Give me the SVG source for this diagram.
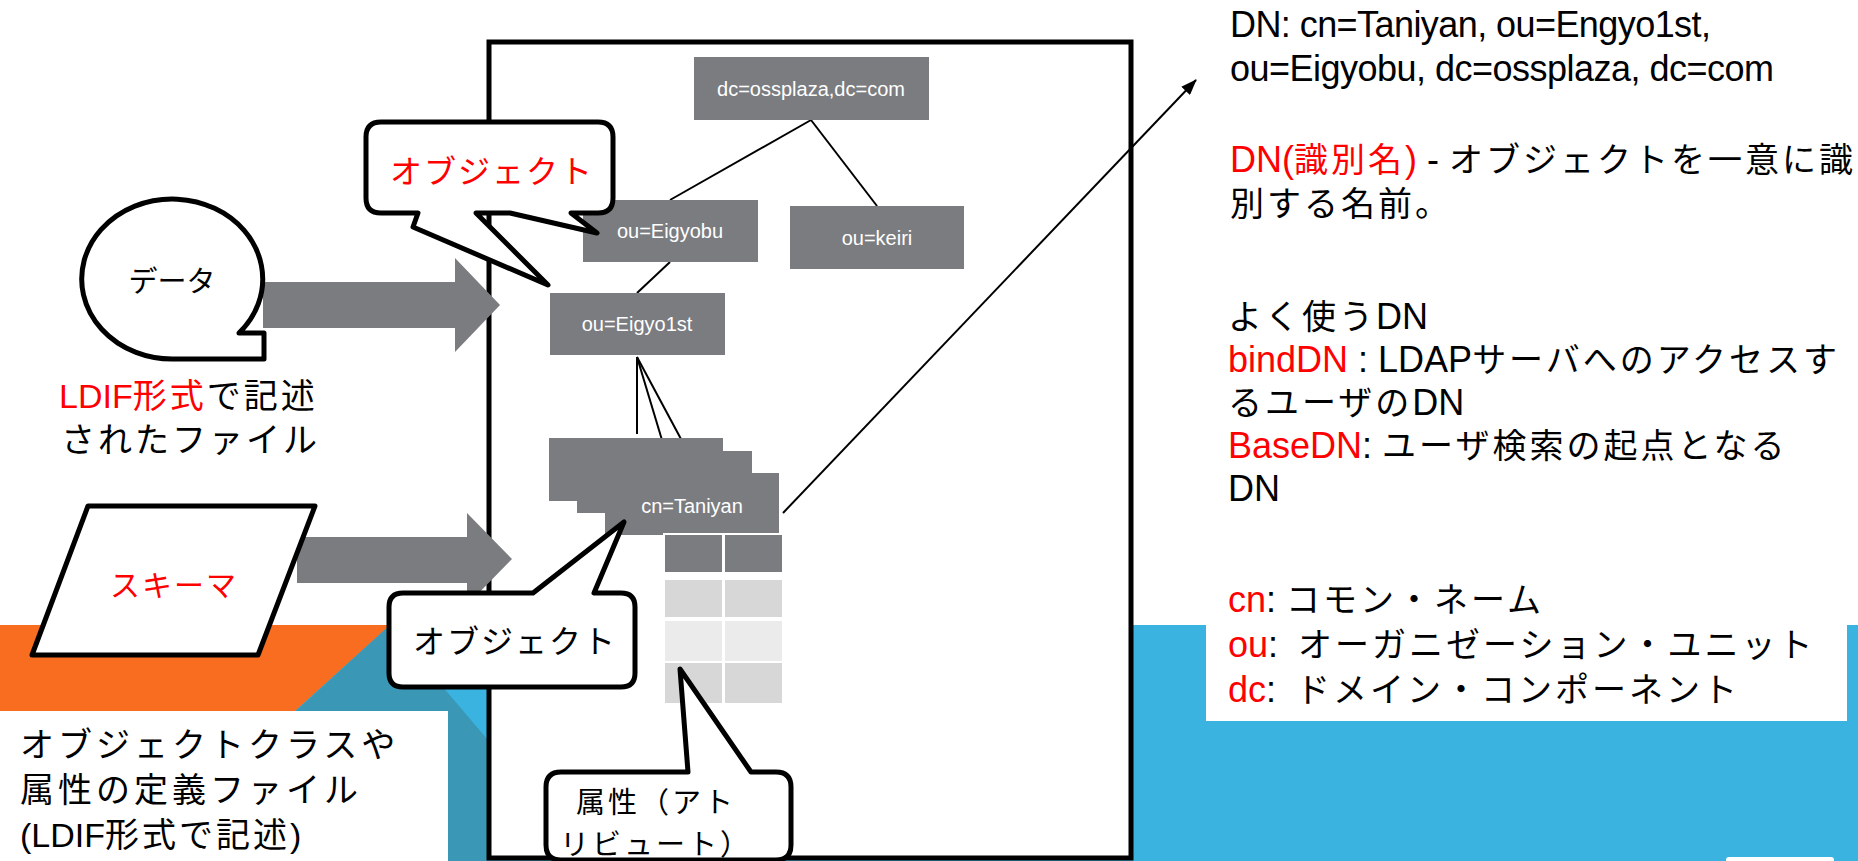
<svg xmlns="http://www.w3.org/2000/svg" width="1858" height="861" viewBox="0 0 1858 861">
<defs>
<style>
.rt{font-family:"Liberation Sans","Noto Sans CJK JP",sans-serif;font-size:36px;fill:#000;}
.j{letter-spacing:3px;font-size:34px;}
.j4{letter-spacing:4px;font-size:34px;}
.box{fill:#7B7C80;}
.bt{font-family:"Liberation Sans",sans-serif;font-size:20px;fill:#fff;text-anchor:middle;}
.ln{stroke:#000;stroke-width:2;fill:none;}
.bub{fill:#fff;stroke:#000;stroke-width:5;stroke-linejoin:round;}
.ar{fill:#7B7C80;}
.jt{font-family:"Noto Sans CJK JP",sans-serif;fill:#000;}
.rt .red, .jt.red, .red{fill:#FF0000;}
</style>
<marker id="ah" markerUnits="userSpaceOnUse" markerWidth="16" markerHeight="12" refX="15" refY="6" orient="auto"><path d="M0,0 L16,6 L0,12 Z" fill="#000"/></marker>
</defs>

<g id="background">
<rect x="0" y="0" width="1858" height="861" fill="#fff"/>
<rect x="0" y="625" width="1858" height="236" fill="#3BB3E0"/>
<polygon points="0,625 390,625 295,711 0,711" fill="#F86D1F"/>
<polygon points="390,625 131,861 591,861" fill="#3A97B5"/>
<rect x="0" y="711" width="448" height="150" fill="#fff"/>
<rect x="1206" y="540" width="641" height="181" fill="#fff"/>
<rect x="1726" y="857" width="108" height="10" rx="3" fill="#fff"/>
</g>

<g id="container">
<rect x="489" y="42" width="642" height="816" fill="#fff" stroke="#000" stroke-width="5"/>
</g>

<g id="connectors">
<line class="ln" x1="811" y1="120" x2="670" y2="200"/>
<line class="ln" x1="811" y1="120" x2="877" y2="206"/>
<line class="ln" x1="670" y1="262" x2="637" y2="293"/>
<line class="ln" x1="637" y1="357" x2="637" y2="434"/>
<line class="ln" x1="637" y1="357" x2="665" y2="450"/>
<line class="ln" x1="637" y1="357" x2="696" y2="467"/>
<line class="ln" x1="783" y1="513" x2="1196" y2="80" marker-end="url(#ah)"/>
</g>

<g id="node-dc">
<rect class="box" x="694" y="57" width="235" height="63"/>
<text class="bt" x="811" y="96">dc=ossplaza,dc=com</text>
</g>
<g id="node-eigyobu">
<rect class="box" x="583" y="200" width="175" height="62"/>
<text class="bt" x="670" y="238">ou=Eigyobu</text>
</g>
<g id="node-keiri">
<rect class="box" x="790" y="206" width="174" height="63"/>
<text class="bt" x="877" y="245">ou=keiri</text>
</g>
<g id="node-eigyo1st">
<rect class="box" x="550" y="293" width="175" height="62"/>
<text class="bt" x="637" y="331">ou=Eigyo1st</text>
</g>
<g id="node-cn">
<rect class="box" x="549" y="438" width="174" height="63"/>
<rect class="box" x="577" y="451" width="175" height="62"/>
<rect class="box" x="605" y="473" width="174" height="62"/>
<text class="bt" x="692" y="513">cn=Taniyan</text>
</g>
<g id="node-attrs">
<rect x="663" y="533" width="121" height="172" fill="#fff"/>
<rect x="665" y="535" width="57" height="37" fill="#7B7C80"/>
<rect x="725" y="535" width="57" height="37" fill="#7B7C80"/>
<rect x="665" y="580" width="57" height="37" fill="#D7D7D7"/>
<rect x="725" y="580" width="57" height="37" fill="#D7D7D7"/>
<rect x="665" y="621" width="57" height="40" fill="#EBEBEB"/>
<rect x="725" y="621" width="57" height="40" fill="#EBEBEB"/>
<rect x="665" y="663" width="57" height="40" fill="#D7D7D7"/>
<rect x="725" y="663" width="57" height="40" fill="#D7D7D7"/>
</g>

<g id="arrow-data">
<polygon class="ar" points="263,282 455,282 455,258 500,305 455,352 455,328 263,328"/>
</g>
<g id="arrow-schema">
<polygon class="ar" points="297,537 467,537 467,513 512,559 467,605 467,583 297,583"/>
</g>

<g id="node-data">
<path class="bub" d="M174,359 H264 V333 H239 A90.5 80 0 1 0 174,359 Z"/>
<text class="jt" x="172" y="292" font-size="29" text-anchor="middle">データ</text>
</g>
<g id="label-ldif">
<text class="rt" x="59" y="408"><tspan class="red" font-size="34">LDIF</tspan><tspan class="red j">形式</tspan><tspan class="j">で記述</tspan></text>
<text class="rt" x="61" y="452"><tspan class="j">されたファイル</tspan></text>
</g>

<g id="node-schema">
<polygon class="bub" points="88,506 315,506 258,655 32,655"/>
<text class="jt red" x="174" y="596" font-size="30" text-anchor="middle" letter-spacing="2" fill="#FF0000">スキーマ</text>
</g>

<g id="callout-object-top">
<path class="bub" d="M381,122 H598 Q613,122 613,137 V198 Q613,213 598,213 H571 L597,233 L510,213 H476 L548,285 L413,227 L418,213 H381 Q366,213 366,198 V137 Q366,122 381,122 Z"/>
<text class="jt red" x="492" y="183" font-size="32" text-anchor="middle" letter-spacing="2" fill="#FF0000">オブジェクト</text>
</g>

<g id="callout-object-bottom">
<path class="bub" d="M403,593 H533 L624,522 L594,593 H621 Q635,593 635,607 V673 Q635,687 621,687 H403 Q389,687 389,673 V607 Q389,593 403,593 Z"/>
<text class="jt" x="515" y="653" font-size="32" text-anchor="middle" letter-spacing="2">オブジェクト</text>
</g>

<g id="callout-attr">
<path class="bub" d="M561,772 H688 L680,669 L751,772 H776 Q791,772 791,787 V845 Q791,860 776,860 H561 Q546,860 546,845 V787 Q546,772 561,772 Z"/>
<text class="jt" font-size="29" text-anchor="middle" letter-spacing="3"><tspan x="656" y="813">属性（アト</tspan><tspan x="656" y="855">リビュート）</tspan></text>
</g>

<g id="label-schema-desc">
<text class="rt" x="20" y="757"><tspan class="j4">オブジェクトクラスや</tspan></text>
<text class="rt" x="20" y="802"><tspan class="j4">属性の定義ファイル</tspan></text>
<text class="rt" x="20" y="847"><tspan font-size="34">(LDIF</tspan><tspan class="j">形式で記述</tspan><tspan font-size="34">)</tspan></text>
</g>

<g id="label-dn">
<text class="rt" x="1230" y="37" textLength="481" lengthAdjust="spacing">DN: cn=Taniyan, ou=Engyo1st,</text>
<text class="rt" x="1230" y="81" textLength="544" lengthAdjust="spacing">ou=Eigyobu, dc=ossplaza, dc=com</text>
<text class="rt" x="1230" y="172"><tspan class="red">DN(</tspan><tspan class="red j">識別名</tspan><tspan class="red">)</tspan> - <tspan class="j">オブジェクトを一意に識</tspan></text>
<text class="rt" x="1230" y="216"><tspan class="j">別する名前。</tspan></text>
<text class="rt" x="1228" y="329"><tspan class="j">よく使う</tspan>DN</text>
<text class="rt" x="1228" y="372"><tspan class="red">bindDN</tspan> : LDAP<tspan class="j">サーバへのアクセスす</tspan></text>
<text class="rt" x="1228" y="415"><tspan class="j">るユーザの</tspan>DN</text>
<text class="rt" x="1228" y="458"><tspan class="red">BaseDN</tspan>: <tspan class="j">ユーザ検索の起点となる</tspan></text>
<text class="rt" x="1228" y="501">DN</text>
</g>

<g id="label-abbr">
<text class="rt" x="1228" y="612"><tspan class="red">cn</tspan>: <tspan class="j">コモン・ネーム</tspan></text>
<text class="rt" x="1228" y="657"><tspan class="red">ou</tspan>:&#160; <tspan class="j">オーガニゼーション・ユニット</tspan></text>
<text class="rt" x="1228" y="702"><tspan class="red">dc</tspan>:&#160; <tspan class="j">ドメイン・コンポーネント</tspan></text>
</g>
</svg>
